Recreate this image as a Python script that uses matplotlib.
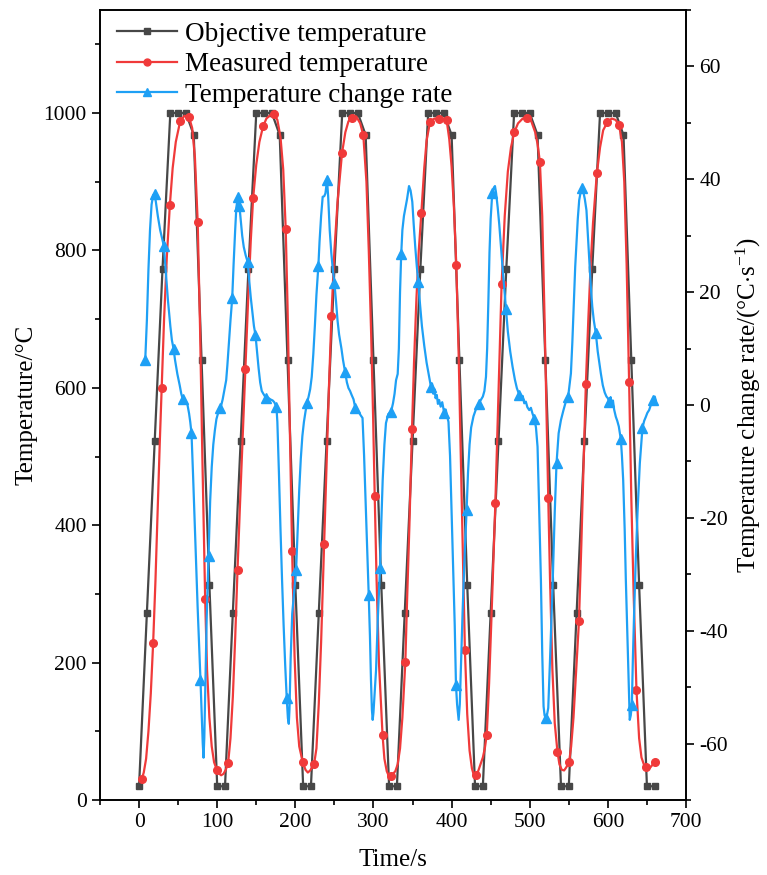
import matplotlib
matplotlib.use("Agg")
import matplotlib.pyplot as plt
from matplotlib.ticker import MultipleLocator
from matplotlib.lines import Line2D

plt.rcParams['font.family'] = ['Liberation Serif', 'DejaVu Serif']
plt.rcParams['mathtext.fontset'] = 'custom'
plt.rcParams['mathtext.rm'] = 'Liberation Serif'
plt.rcParams['mathtext.it'] = 'Liberation Serif:italic'
plt.rcParams['axes.unicode_minus'] = False

# ---- objective temperature (sampled every 10 s) ----
obj_time = [0, 10, 20, 30, 40, 50, 60, 70, 80, 90, 100,
            110, 120, 130, 140, 150, 160, 170, 180, 190, 200, 210,
            220, 230, 240, 250, 260, 270, 280, 290, 300, 310, 320,
            330, 340, 350, 360, 370, 380, 390, 400, 410, 420, 430,
            440, 450, 460, 470, 480, 490, 500, 510, 520, 530, 540,
            550, 560, 570, 580, 590, 600, 610, 620, 630, 640, 650, 660]
obj_temp = [20, 272, 522, 773, 1000, 1000, 1000, 968, 640, 313, 20,
            20, 272, 522, 773, 1000, 1000, 1000, 968, 640, 313, 20,
            20, 272, 522, 773, 1000, 1000, 1000, 968, 640, 313, 20,
            20, 272, 522, 773, 1000, 1000, 1000, 968, 640, 313, 20,
            20, 272, 522, 773, 1000, 1000, 1000, 968, 640, 313, 20,
            20, 272, 522, 773, 1000, 1000, 1000, 968, 640, 313, 20, 20]

# ---- measured temperature ----
meas_time = [2, 3.3, 6, 9, 12, 15, 18, 21, 24, 26.5, 29, 32, 35.5, 39.4, 43, 47, 52.6, 58, 64, 68, 71.5,
             75, 78, 81, 84.6, 87, 90, 93, 96, 99.5, 102, 105, 108, 111, 114,
             117, 120, 123, 126, 129, 132, 136.2, 140, 143, 146, 150, 154, 158.8, 163, 168, 172.9,
             177, 181, 184.5, 187.7, 190, 193, 195.9, 199, 202, 205, 209.5, 213, 216, 219, 224,
             227, 230, 233, 236.8, 240, 243, 246.2, 250, 254, 259.8, 264, 268, 273, 278, 283, 287,
             291, 294, 297, 299.5, 301.6, 304, 307, 311.6, 314, 317, 320, 322.5, 325,
             328, 331, 334, 337, 340.8, 343, 346, 349.3, 352, 355, 358, 361.3, 365, 368, 372.4,
             378, 383.9, 389, 393.6, 397, 400, 403, 406, 409, 412, 414.5, 417, 420, 423, 426,
             428.5, 431, 434, 437, 440, 442.5, 445, 448, 451, 454, 456, 459, 461.5, 464, 468,
             472, 476, 480.2, 485, 491, 496.8, 502, 507, 510, 513, 516, 519, 521.5, 523.7, 526,
             529, 532, 535.5, 538, 541, 544, 547, 550.5, 553, 556, 559, 563, 566, 569, 571.8,
             575, 578, 581, 585.9, 590, 594, 599.5, 605, 610, 614.4, 618, 621, 624, 627.2, 630,
             633, 636.6, 640, 643, 646, 649, 651.5, 654, 657, 660]
meas_temp = [27, 30, 40, 60, 100, 155, 228, 320, 430, 520, 600, 700, 790, 866, 920, 958, 988, 996, 994, 978, 935,
             842, 690, 500, 292, 190, 120, 78, 55, 44, 39, 36, 38, 44, 54,
             90, 150, 235, 335, 425, 510, 627, 740, 815, 876, 925, 958, 981, 992, 997, 998,
             990, 965, 918, 831, 720, 540, 362, 210, 120, 78, 55, 44, 40, 43, 52,
             75, 140, 230, 372, 490, 600, 704, 800, 870, 942, 972, 988, 993, 995, 985, 968,
             900, 800, 680, 560, 442, 320, 200, 95, 60, 42, 34, 35, 38,
             42, 52, 75, 120, 201, 290, 400, 540, 640, 730, 800, 855, 920, 960, 987,
             992, 991, 992, 990, 962, 922, 862, 779, 650, 490, 350, 219, 125, 72, 46,
             36, 36, 42, 52, 62, 75, 95, 170, 265, 365, 432, 550, 650, 751, 850,
             915, 950, 972, 985, 992, 993, 988, 972, 955, 929, 850, 700, 560, 440, 320,
             190, 112, 70, 52, 44, 43, 48, 56, 78, 120, 180, 260, 370, 490, 605,
             700, 780, 840, 912, 950, 975, 987, 992, 990, 982, 958, 900, 780, 608, 440,
             300, 160, 90, 62, 52, 48, 46, 47, 51, 56]
meas_mark_time = [3.3, 18, 29, 39.4, 52.6, 64, 75, 84.6, 99.5, 114,
                  126, 136.2, 146, 158.8, 172.9, 187.7, 195.9, 209.5, 224,
                  236.8, 246.2, 259.8, 273, 287, 301.6, 311.6, 322.5,
                  340.8, 349.3, 361.3, 372.4, 383.9, 393.6, 406, 417, 431, 445,
                  456, 464, 480.2, 496.8, 513, 523.7, 535.5, 550.5,
                  563, 571.8, 585.9, 599.5, 614.4, 627.2, 636.6, 649, 660]
meas_mark_temp = [30, 228, 600, 866, 988, 994, 842, 292, 44, 54,
                  335, 627, 876, 981, 998, 831, 362, 55, 52,
                  372, 704, 942, 993, 968, 442, 95, 35,
                  201, 540, 855, 987, 991, 990, 779, 219, 36, 95,
                  432, 751, 972, 993, 929, 440, 70, 56,
                  260, 605, 912, 987, 982, 608, 160, 48, 56]

# ---- temperature change rate ----
rate_time = [7.9, 10, 12, 14, 16, 18, 19.8, 21.5, 24, 27, 29.5, 31.7, 34, 37, 40, 42, 44.1, 46, 49, 52, 54,
             56, 58, 60, 62, 64, 65.5, 67.1, 69, 71, 73, 75, 77, 78.6, 80, 81.5, 82.5, 83.5, 85, 86.5,
             88.9, 91, 93, 95, 97, 99, 101, 104.2, 107, 109, 111.5,
             113, 115, 117, 119.2, 121, 123, 124.5, 126.4, 127.5, 128.5, 130, 132, 134, 136.5, 139.1,
             141, 143, 145, 147, 149, 151, 153, 155, 157, 159, 162.6, 165, 168, 171, 173, 175.8, 177,
             179, 181, 183, 185, 187, 189, 190.5, 191.6, 192.5, 194, 196, 198.5, 201, 203, 205, 207,
             209, 211, 213, 215, 217, 219,
             221, 223, 225, 227, 229.5, 231, 233, 235, 237, 238.5, 240.6, 242, 244, 246, 248, 250,
             252, 254, 256, 259, 261, 263.7, 266, 268, 270, 272, 274.5, 276.9, 279, 281, 283.5, 286,
             288, 290.4, 292, 293.9, 295.5, 296.8, 298, 299, 300, 301.5, 303.3, 305.5, 308.4, 310,
             311.8, 314, 316, 319, 322.5, 325, 327, 328.9,
             331, 332.5, 334, 335.5, 337, 339, 341, 343, 345.5, 347.5, 349.7, 351.5, 353.5, 355.5,
             357.4, 359.5, 362, 365, 368, 370, 372.4, 373.6, 375, 376.5, 378, 379.5, 381, 382.5, 384,
             386, 388, 390.7, 392.5, 394, 396, 398, 400, 402, 404, 405.6, 407, 409, 410.5, 412, 414,
             416, 419.2, 421, 423, 425, 428, 431, 434.6, 437, 440,
             442, 444, 445.5, 447, 448.5, 450, 452, 454, 455.5, 457, 459, 461, 463.5, 466, 469.5,
             472, 475, 478, 481, 483.5, 486.6, 489, 491, 493, 495, 497, 499.4, 501.5, 503.5, 505.8,
             508, 510, 512, 514.3, 516, 517.7, 519, 520.7, 522, 523.7, 526, 529.2, 532, 534.3, 537,
             539.9, 543, 546, 549.2,
             550.5, 552.7, 554.5, 556.5, 558.2, 560, 561.5, 563.3, 565.5, 567.5, 569, 570.5, 572.6,
             574.5, 576.5, 578.2, 580, 582, 584.6, 587, 589, 591, 593.5, 596, 598.2, 600, 601.7,
             603.5, 605, 606.5, 608, 610.2, 612, 614, 616.6, 618, 619.6, 621.5, 623, 624.8, 626.4,
             628, 629.3, 630.7, 632, 633.6, 635.8, 637.9, 640.9, 644.3, 646.5, 648.6, 650.5, 652.8,
             655, 658, 660, 661.4]
rate_val = [8.0, 15, 24, 31, 35.5, 37.2, 37.4, 36, 33.5, 31, 29.5, 28.2, 24, 18.5, 14, 11.5, 10, 8, 5.5, 3.5, 2,
            1, 0.8, 0.5, 0, -1.5, -3, -5, -12, -20, -28, -36, -43, -48.7, -54, -60, -62.5, -59, -48, -38,
            -26.7, -17, -11, -7, -4.5, -2.5, -1.5, -0.6, 1, 2.5, 4.4,
            7, 11, 15, 18.9, 25, 31, 35, 36.8, 35.5, 35.2, 33, 30, 28, 26.5, 25.3,
            22, 19, 16.5, 14, 12.4, 9.5, 6.5, 4, 2.5, 2, 1.2, 1.3, 1, 0.8, 0.5, -0.3, -3,
            -12, -22, -31, -39, -46, -52, -55.5, -56.5, -54, -45, -37, -33, -29.2, -22, -15, -9.5,
            -5.5, -3, -1.2, 0.4, 1.5, 2.8,
            5, 9, 14, 19.5, 24.7, 29, 33.5, 36.9, 37, 37.5, 39.8, 37, 31, 27, 24, 21.6,
            18.5, 15, 12.5, 10, 8, 5.9, 4, 3, 2.5, 1.8, 1, -0.6, -1, -1.2, -1.8, -2.3,
            -9, -19, -26, -33.6, -41, -48.7, -54, -55.8, -54.5, -51, -47, -38, -28.9, -21,
            -13.3, -7, -3.2, -1.6, -1.2, 0.3, 2, 4.4,
            5.5, 10, 20, 26.7, 31, 33.5, 35, 36.5, 38.8, 38, 36, 32, 28, 24.5,
            21.8, 18, 14, 10.5, 7.5, 6, 4.1, 3.2, 3.8, 2, 2.8, 1.2, 1.8, 0.2, 0.9,
            -0.3, 0.5, -1.5, -0.8, -1.8, -3, -9, -19, -29, -39, -49.6, -53, -55.8, -53, -46, -37,
            -29, -18.6, -12, -7, -4, -2, -0.8, 0.2, 0.8, 1.5,
            2.5, 5, 10, 18, 27, 33, 37.5, 38.5, 38.8, 37.5, 35, 32, 27.5, 23, 17.1,
            13, 9.5, 6.8, 4.5, 3, 1.8, 1.2, 1.6, 0.3, 0.6, -0.4, -0.9, -0.5, -1.5, -2.4,
            -4, -7.4, -18, -31, -44, -53.4, -55, -55.5, -55, -53.7, -45, -32.2, -19, -10.3, -5,
            -2.7, -1, 0.5, 1.5,
            3, 5.6, 11, 18.5, 24.5, 29, 33, 36.3, 38, 38.5, 37.5, 36.5, 34.5,
            30, 25, 20.9, 17.5, 15, 12.7, 9.5, 7.5, 5.6, 3.5, 2.2, 1.5, 1.2, 0.6,
            1.4, 0.2, 0.8, -0.8, -2.1, -2.8, -3.8, -6.1, -9, -13.3, -22, -31, -40, -48.7,
            -55.8, -55, -53.1, -45, -36.9, -27, -19.2, -10.3, -4, -2.8, -2.1, -1.4, -0.9,
            0, 0.9, 1.5, 0.8]
rate_mark_time = [7.9, 19.8, 31.7, 44.1, 56, 67.1, 78.6, 88.9, 104.2,
                  119.2, 126.4, 128.5, 139.1, 149, 162.6, 175.8, 189, 201, 215,
                  229.5, 240.6, 250, 263.7, 276.9, 293.9, 308.4, 322.5,
                  335.5, 357.4, 373.6, 390.7, 405.6, 419.2, 434.6,
                  452, 469.5, 486.6, 505.8, 520.7, 534.3, 549.2,
                  567.5, 584.6, 601.7, 616.6, 630.7, 644.3, 658]
rate_mark_val = [8.0, 37.4, 28.2, 10, 1, -5, -48.7, -26.7, -0.6,
                 18.9, 36.8, 35.2, 25.3, 12.4, 1.2, -0.3, -52, -29.2, 0.4,
                 24.7, 39.8, 21.6, 5.9, -0.6, -33.6, -28.9, -1.2,
                 26.7, 21.8, 3.2, -1.5, -49.6, -18.6, 0.2,
                 37.5, 17.1, 1.8, -2.4, -55.5, -10.3, 1.5,
                 38.5, 12.7, 0.6, -6.1, -53.1, -4, 0.9]

c_obj = '#474747'
c_meas = '#f03a3a'
c_rate = '#1ea0f5'
lab_size = 18
tick_size = 15.5

fig = plt.figure(figsize=(7.67, 8.75), dpi=100)
ax = fig.add_axes([100 / 767, 75 / 875, 586 / 767, 790 / 875])
ax2 = ax.twinx()

ax.plot(obj_time, obj_temp, color=c_obj, lw=1.6, marker='s', ms=4.8, zorder=2)
ax.plot(meas_time, meas_temp, color=c_meas, lw=1.6, zorder=3)
ax.plot(meas_mark_time, meas_mark_temp, ls='none', marker='o', ms=5.5, color=c_meas, zorder=4)

ax2.plot(rate_time, rate_val, color=c_rate, lw=1.6, zorder=2)
ax2.plot(rate_mark_time, rate_mark_val, ls='none', marker='^', ms=6.5, color=c_rate, zorder=3)

ax.set_xlim(-50, 700)
ax.set_ylim(0, 1150)
ax2.set_ylim(-70, 70)

ax.xaxis.set_major_locator(MultipleLocator(100))
ax.xaxis.set_minor_locator(MultipleLocator(50))
ax.yaxis.set_major_locator(MultipleLocator(200))
ax.yaxis.set_minor_locator(MultipleLocator(100))
ax2.yaxis.set_major_locator(MultipleLocator(20))
ax2.yaxis.set_minor_locator(MultipleLocator(10))

for a in (ax, ax2):
    a.tick_params(which='major', direction='out', length=6, width=1.2, labelsize=tick_size)
    a.tick_params(which='minor', direction='out', length=3.5, width=1.2)
    for s in a.spines.values():
        s.set_linewidth(1.2)
ax.tick_params(axis='y', which='both', right=False)
ax.tick_params(axis='x', which='both', top=False)

ax.set_xlabel('Time/s', fontsize=lab_size, labelpad=12)
ax.set_ylabel('Temperature/°C', fontsize=lab_size, labelpad=4)
ax2.set_ylabel('Temperature change rate/(°C$\\cdot$s$^{-1}$)', fontsize=lab_size, labelpad=4)

handles = [Line2D([], [], color=c_obj, lw=1.6, marker='s', ms=4.8),
           Line2D([], [], color=c_meas, lw=1.6, marker='o', ms=5),
           Line2D([], [], color=c_rate, lw=1.6, marker='^', ms=5.5)]
labels = ['Objective temperature', 'Measured temperature', 'Temperature change rate']
ax2.legend(handles, labels, loc='upper left', bbox_to_anchor=(0.02, 0.992), frameon=False,
           fontsize=19.5, handlelength=2.2, handletextpad=0.3, labelspacing=0.2,
           borderaxespad=0.0, borderpad=0.2)

fig.savefig('out.png', dpi=100)
